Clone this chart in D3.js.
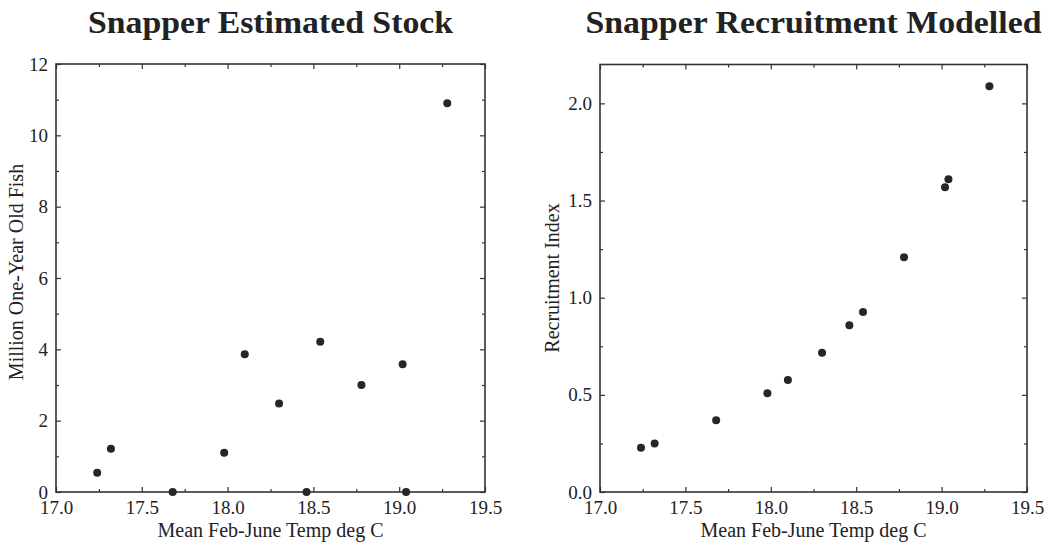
<!DOCTYPE html>
<html><head><meta charset="utf-8">
<script src="https://cdn.jsdelivr.net/npm/d3@7"></script>
<style>
body{margin:0;background:#fff;}
text{font-family:"Liberation Serif","Times New Roman",serif;fill:#222;}
</style></head>
<body><svg id="c" width="1056" height="542"></svg>
<script>
const temps = [17.24, 17.32, 17.68, 17.98, 18.10, 18.30, 18.46, 18.54, 18.78, 19.02, 19.04, 19.28];
const stock = [0.54, 1.21, 0, 1.10, 3.86, 2.48, 0, 4.21, 3.0, 3.58, 0, 10.9];
const recruitTemps = [17.24, 17.32, 17.68, 17.98, 18.10, 18.30, 18.46, 18.54, 18.78, 19.02, 19.04, 19.28];
const recruit = [0.228, 0.249, 0.369, 0.508, 0.576, 0.717, 0.858, 0.926, 1.208, 1.568, 1.609, 2.088];
const xTicks = [17.0, 17.5, 18.0, 18.5, 19.0, 19.5];
const xMinor = [17.25, 17.75, 18.25, 18.75, 19.25];
const stockTicks = [0, 2, 4, 6, 8, 10, 12];
const stockMinor = [1, 3, 5, 7, 9, 11];
const recruitTicks = [0.0, 0.5, 1.0, 1.5, 2.0];
const recruitMinor = [0.25, 0.75, 1.25, 1.75];

const svg = d3.select("#c");

function panel(o){
  const g = svg.append("g");
  const x = d3.scaleLinear().domain([17, 19.5]).range([o.left, o.right]);
  const y = d3.scaleLinear().domain(o.yDomain).range([o.bottom, o.top]);
  const W = o.right - o.left, H = o.bottom - o.top;
  const st = "#333";
  g.append("g").attr("transform", `translate(0,${o.bottom})`)
    .call(d3.axisBottom(x).tickValues(xTicks).tickFormat(d3.format(".1f")).tickSizeInner(-5).tickSizeOuter(0).tickPadding(9));
  g.append("g").attr("transform", `translate(0,${o.bottom})`)
    .call(d3.axisBottom(x).tickValues(xMinor).tickFormat("").tickSizeInner(-3).tickSizeOuter(0));
  g.append("g").attr("transform", `translate(0,${o.top})`)
    .call(d3.axisTop(x).tickValues(xTicks).tickFormat("").tickSizeInner(-5).tickSizeOuter(0));
  g.append("g").attr("transform", `translate(0,${o.top})`)
    .call(d3.axisTop(x).tickValues(xMinor).tickFormat("").tickSizeInner(-3).tickSizeOuter(0));
  g.append("g").attr("transform", `translate(${o.left},0)`)
    .call(d3.axisLeft(y).tickValues(o.yTicks).tickFormat(o.yFmt).tickSizeInner(-5).tickSizeOuter(0).tickPadding(8));
  g.append("g").attr("transform", `translate(${o.left},0)`)
    .call(d3.axisLeft(y).tickValues(o.yMinor).tickFormat("").tickSizeInner(-3).tickSizeOuter(0));
  g.append("g").attr("transform", `translate(${o.right},0)`)
    .call(d3.axisRight(y).tickValues(o.yTicks).tickFormat("").tickSizeInner(-5).tickSizeOuter(0));
  g.append("g").attr("transform", `translate(${o.right},0)`)
    .call(d3.axisRight(y).tickValues(o.yMinor).tickFormat("").tickSizeInner(-3).tickSizeOuter(0));
  g.selectAll(".domain").remove();
  g.selectAll(".tick line").attr("stroke", st).attr("stroke-width", 1.2);
  g.selectAll(".tick text").attr("font-family", "Liberation Serif, serif").attr("font-size", 19).attr("fill", "#222");
  g.append("rect").attr("x", o.left).attr("y", o.top).attr("width", W).attr("height", H)
    .attr("fill", "none").attr("stroke", st).attr("stroke-width", 1.6);
  g.selectAll("circle.pt").data(o.xs.map((t, i) => [t, o.ys[i]])).enter().append("circle")
    .attr("class", "pt").attr("cx", d => x(d[0])).attr("cy", d => y(d[1])).attr("r", 4)
    .attr("fill", "#262626");
  g.append("text").attr("x", (o.left + o.right) / 2).attr("y", 33).attr("text-anchor", "middle")
    .attr("font-size", 31).attr("font-weight", "bold")
    .attr("textLength", o.titleLen).attr("lengthAdjust", "spacingAndGlyphs").text(o.title);
  g.append("text").attr("x", (o.left + o.right) / 2).attr("y", 537).attr("text-anchor", "middle")
    .attr("font-size", 20).text("Mean Feb-June Temp deg C");
  g.append("text").attr("transform", `translate(${o.ylabX},${o.ylabY}) rotate(-90)`)
    .attr("text-anchor", "middle").attr("font-size", 20).text(o.ylabel);
}

panel({left:56, right:485, top:64, bottom:492, yDomain:[0,12], yTicks:stockTicks, yMinor:stockMinor,
  yFmt:d3.format("d"), xs:temps, ys:stock, title:"Snapper Estimated Stock", titleLen:365,
  ylabel:"Million One-Year Old Fish", ylabX:23, ylabY:272});
panel({left:600, right:1027, top:64.5, bottom:492, yDomain:[0,2.2], yTicks:recruitTicks, yMinor:recruitMinor,
  yFmt:d3.format(".1f"), xs:recruitTemps, ys:recruit, title:"Snapper Recruitment Modelled", titleLen:456,
  ylabel:"Recruitment Index", ylabX:559, ylabY:278});
</script></body></html>
